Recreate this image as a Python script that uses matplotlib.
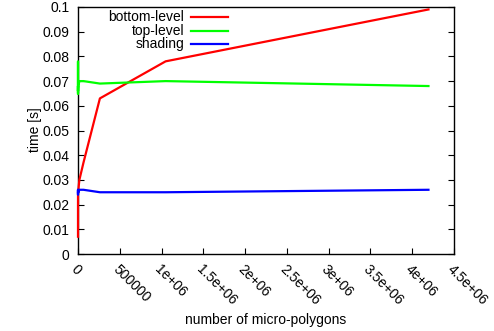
import matplotlib
matplotlib.use("Agg")
import matplotlib.pyplot as plt

micro_polygons = [1, 4, 16, 64, 256, 1024, 4096, 16384, 65536, 262144, 1048576, 4194304]
bottom_level = [0.007, 0.010, 0.015, 0.020, 0.024, 0.025, 0.026, 0.030, 0.037, 0.063, 0.078, 0.099]
top_level = [0.065, 0.078, 0.066, 0.068, 0.065, 0.067, 0.068, 0.070, 0.070, 0.069, 0.070, 0.068]
shading = [0.025, 0.026, 0.025, 0.024, 0.025, 0.026, 0.025, 0.026, 0.026, 0.025, 0.025, 0.026]

xticks = [0, 500000, 1000000, 1500000, 2000000, 2500000, 3000000, 3500000, 4000000, 4500000]
xtick_labels = ["0", "500000", "1e+06", "1.5e+06", "2e+06", "2.5e+06", "3e+06", "3.5e+06", "4e+06", "4.5e+06"]
yticks = [0, 0.01, 0.02, 0.03, 0.04, 0.05, 0.06, 0.07, 0.08, 0.09, 0.1]
ytick_labels = ["0", "0.01", "0.02", "0.03", "0.04", "0.05", "0.06", "0.07", "0.08", "0.09", "0.1"]

plt.rcParams['font.family'] = ['Liberation Sans', 'DejaVu Sans']
plt.rcParams['font.size'] = 10

fig = plt.figure(figsize=(4.94, 3.31), dpi=100)
W, H = 494, 331
ax = fig.add_axes([78 / W, 1 - 254 / H, (454 - 78) / W, (254 - 7) / H])

ax.plot(micro_polygons, bottom_level, color='#ff0000', lw=1.6, zorder=3, clip_on=False)
ax.plot(micro_polygons, top_level, color='#00ff00', lw=1.6, zorder=3, clip_on=False)
ax.plot(micro_polygons, shading, color='#0000ff', lw=1.6, zorder=3, clip_on=False)

ax.set_xlim(0, 4500000)
ax.set_ylim(0, 0.1)
ax.set_xticks(xticks)
ax.set_xticklabels(xtick_labels, rotation=-45, ha='left', va='top', rotation_mode='anchor')
ax.set_yticks(yticks)
ax.set_yticklabels(ytick_labels)
ax.tick_params(axis='both', direction='in', length=4, width=0.8, colors='black')
ax.tick_params(axis='y', right=True, pad=6)
ax.tick_params(axis='x', pad=6)
for s in ax.spines.values():
    s.set_linewidth(1.0)

ax.set_xlabel('number of micro-polygons')
ax.xaxis.set_label_coords((266 - 78) / (454 - 78), -(320 - 254) / (254 - 7))
ax.xaxis.label.set_va('center')
ax.set_ylabel('time [s]')
ax.yaxis.set_label_coords(-(78 - 35) / (454 - 78), (254 - 130) / (254 - 7))
ax.yaxis.label.set_va('center')

# gnuplot-style legend: text right-aligned, sample to the right
labels = ['bottom-level', 'top-level', 'shading']
colors = ['#ff0000', '#00ff00', '#0000ff']
rows = [17, 31, 44]
for lab, col, yy in zip(labels, colors, rows):
    yf = 1 - yy / H
    fig.text(184 / W, yf, lab, ha='right', va='center', fontsize=10)
    fig.add_artist(plt.Line2D([191 / W, 228 / W], [yf, yf], color=col, lw=1.6, transform=fig.transFigure))

fig.savefig('out.png', dpi=100)
